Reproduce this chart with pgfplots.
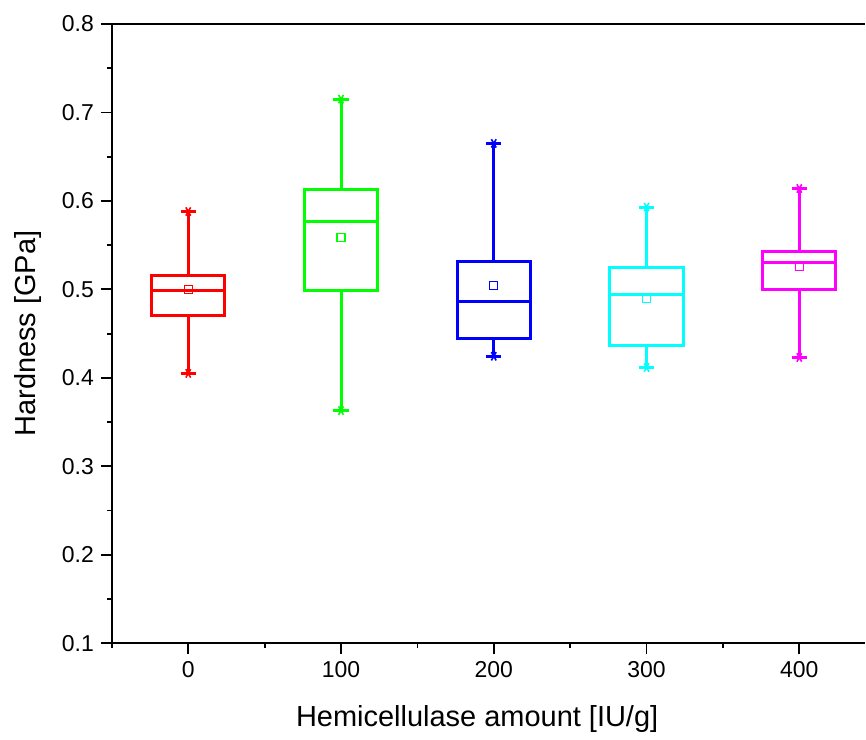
\documentclass[border=0pt]{standalone}
\usepackage{fontspec}
\setmainfont{Liberation Sans}
\usepackage{pgfplots}
\pgfplotsset{compat=1.18}
\usepgfplotslibrary{statistics}
\definecolor{cR}{RGB}{255,0,0}
\definecolor{cG}{RGB}{0,255,0}
\definecolor{cB}{RGB}{0,0,255}
\definecolor{cC}{RGB}{0,255,255}
\definecolor{cM}{RGB}{255,0,255}
\begin{document}
\begin{tikzpicture}
\begin{axis}[
  scale only axis, width=377pt, height=310pt,
  xmin=-50, xmax=443, ymin=0.1, ymax=0.8,
  axis x line=box, axis y line=left,
  y axis line style={-}, x axis line style={-},
  axis line style={line width=1pt},
  xtick={0,100,200,300,400}, minor xtick={-50,50,150,250,350},
  ytick={0.1,0.2,...,0.8}, minor ytick={0.15,0.25,0.35,0.45,0.55,0.65,0.75},
  xtick pos=bottom, ytick pos=left,
  tick align=outside,
  major tick length=5.5pt, minor tick length=2.5pt,
  every tick/.style={black, line width=0.9pt},
  /pgf/number format/assume math mode=true,
  yticklabel style={/pgf/number format/.cd, fixed, fixed zerofill, precision=1},
  xticklabel style={/pgf/number format/.cd, fixed, precision=0},
  tick label style={font=\fontsize{11.5}{13}\selectfont},
  label style={font=\fontsize{14.5}{17}\selectfont},
  xlabel={Hemicellulase amount [IU/g]},
  ylabel={Hardness [GPa]},
  ylabel style={at={(axis description cs:-0.111,0.5)}, anchor=center},
  xlabel style={at={(axis description cs:0.485,-0.1226)}, anchor=center},
  boxplot/draw direction=y,
  boxplot/box extend=48,
  boxplot/whisker extend=10,
  boxplot/every box/.style={line width=1.5pt},
  boxplot/every whisker/.style={line width=1.5pt},
  boxplot/every median/.style={line width=1.5pt},
  clip=false,
]
\addplot[cR, boxplot prepared={draw position=0, lower whisker=0.405, lower quartile=0.470, median=0.499, upper quartile=0.5155, upper whisker=0.588}] coordinates {};
\addplot[only marks, cR, mark=asterisk, mark size=2.4pt, mark options={rotate=90, line width=0.8pt}] coordinates {(0,0.405) (0,0.588)};
\addplot[only marks, cR, mark=square, mark size=2pt, mark options={line width=0.6pt}] coordinates {(0,0.500)};

\addplot[cG, boxplot prepared={draw position=100, lower whisker=0.363, lower quartile=0.4985, median=0.577, upper quartile=0.613, upper whisker=0.715}] coordinates {};
\addplot[only marks, cG, mark=asterisk, mark size=2.4pt, mark options={rotate=90, line width=0.8pt}] coordinates {(100,0.363) (100,0.715)};
\addplot[only marks, cG, mark=square, mark size=2pt, mark options={line width=0.6pt}] coordinates {(100,0.559)};

\addplot[cB, boxplot prepared={draw position=200, lower whisker=0.4244, lower quartile=0.444, median=0.486, upper quartile=0.531, upper whisker=0.665}] coordinates {};
\addplot[only marks, cB, mark=asterisk, mark size=2.4pt, mark options={rotate=90, line width=0.8pt}] coordinates {(200,0.4244) (200,0.665)};
\addplot[only marks, cB, mark=square, mark size=2pt, mark options={line width=0.6pt}] coordinates {(200,0.5046)};

\addplot[cC, boxplot prepared={draw position=300, lower whisker=0.4116, lower quartile=0.437, median=0.494, upper quartile=0.525, upper whisker=0.593}] coordinates {};
\addplot[only marks, cC, mark=asterisk, mark size=2.4pt, mark options={rotate=90, line width=0.8pt}] coordinates {(300,0.4116) (300,0.593)};
\addplot[only marks, cC, mark=square, mark size=2pt, mark options={line width=0.6pt}] coordinates {(300,0.490)};

\addplot[cM, boxplot prepared={draw position=400, lower whisker=0.423, lower quartile=0.4993, median=0.5305, upper quartile=0.543, upper whisker=0.614}] coordinates {};
\addplot[only marks, cM, mark=asterisk, mark size=2.4pt, mark options={rotate=90, line width=0.8pt}] coordinates {(400,0.423) (400,0.614)};
\addplot[only marks, cM, mark=square, mark size=2pt, mark options={line width=0.6pt}] coordinates {(400,0.5256)};
\end{axis}
\path (current axis.north west) -- ++(0,12pt);
\path (current axis.south west) -- ++(-56pt,-47pt);
\end{tikzpicture}
\end{document}
